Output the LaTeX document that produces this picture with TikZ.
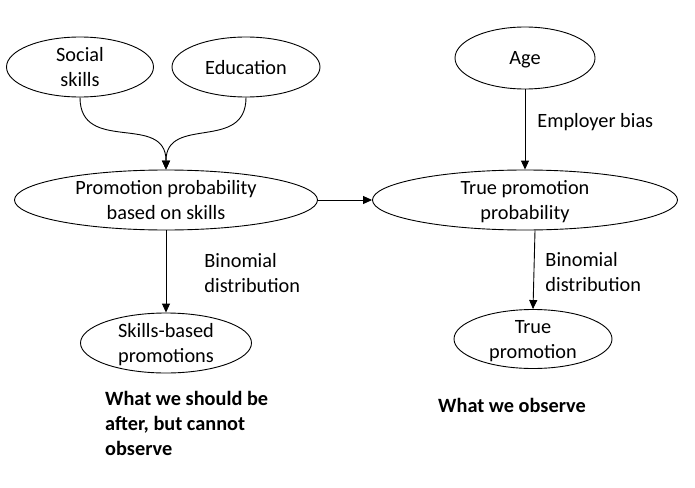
\documentclass[tikz,border=0pt]{standalone}
\usepackage{fontspec}
\setmainfont{Carlito}
\usetikzlibrary{arrows.meta, positioning, shapes.geometric}
\tikzset{%
	every node/.style={font=\fontsize{20.3}{25}\selectfont},
	var/.style={draw, ellipse, inner sep=0mm, align=center, text depth=0pt, line width=0.9pt},
	sel/.style={-{Triangle[length=9pt,width=8pt]}, line width=0.9pt},
	lbl/.style={align=left, inner sep=0pt},
	note/.style={anchor=north west, align=left, inner sep=0pt,%
		font=\fontsize{20.3}{25}\selectfont\bfseries}
}
\begin{document}
\begin{tikzpicture}[x=1pt, y=-1pt]
	\useasboundingbox (0,0) rectangle (695,487);
	\node[var, minimum width=147pt, minimum height=60pt] (social) at (80,67) {Social\\skills};
	\node[var, minimum width=148pt, minimum height=60pt] (edu) at (246,67) {Education};
	\node[var, minimum width=303pt, minimum height=60pt] (prom) at (166,200) {Promotion probability\\based on skills};
	\node[var, minimum width=171pt, minimum height=60pt] (skills) at (166,343) {Skills-based\\promotions};
	\node[var, minimum width=140pt, minimum height=62pt] (age) at (525,58) {Age};
	\node[var, minimum width=305pt, minimum height=60pt] (truep) at (525,200) {True promotion\\probability};
	\node[var, minimum width=158pt, minimum height=59pt] (truepr) at (533,339) {True\\promotion};

	\draw[sel, looseness=1.3] (social.south) to[out=-90, in=90] (prom.north);
	\draw[sel, looseness=1.3] (edu.south) to[out=-90, in=90] (prom.north);
	\draw[sel] (prom.east) to (truep.west);
	\draw[sel] (age.south) to node[lbl, pos=.41, right=12pt] {Employer bias} (truep.north);
	\draw[sel] (prom.south) to node[lbl, right=38pt, yshift=-2pt] {Binomial\\distribution} (skills.north);
	\draw[sel] (truep.south -| 535,0) to node[lbl, right=11pt, yshift=-2pt] {Binomial\\distribution} (truepr.north);

	\node[note] (unseen) at (105,391) {What we should be\\after, but cannot\\observe};
	\node[note] (seen) at (438,398) {What we observe};
\end{tikzpicture}
\end{document}
